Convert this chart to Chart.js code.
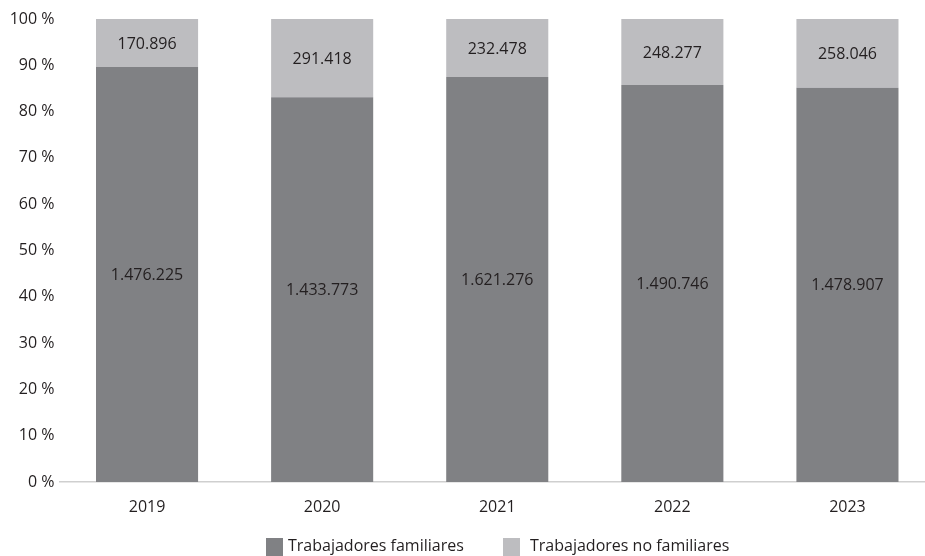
<!DOCTYPE html>
<html lang="es">
<head>
<meta charset="utf-8">
<script src="https://cdn.jsdelivr.net/npm/chart.js@4.4.1/dist/chart.umd.min.js"></script>
<style>
  html, body { margin: 0; padding: 0; overflow: hidden; background: #fff; }
  #wrap { width: 935px; height: 556px; }
</style>
</head>
<body>
<div id="wrap"><canvas id="grafico"></canvas></div>
<script>
// Datos
const years = ['2019', '2020', '2021', '2022', '2023'];
const familiares = [1476225, 1433773, 1621276, 1490746, 1478907];
const noFamiliares = [170896, 291418, 232478, 248277, 258046];
const seriesNames = ['Trabajadores familiares', 'Trabajadores no familiares'];

// porcentaje de cada grupo sobre el total del año
const totals = familiares.map((v, i) => v + noFamiliares[i]);
const pctFamiliares = familiares.map((v, i) => v / totals[i] * 100);
const pctNoFamiliares = noFamiliares.map((v, i) => v / totals[i] * 100);

const textColor = '#231f20';
const fontFamily = "'Open Sans', sans-serif";

function miles(n) {
  return String(n).replace(/\B(?=(\d{3})+(?!\d))/g, '.');
}

// etiquetas dentro de las barras
const barLabels = {
  id: 'barLabels',
  afterDatasetsDraw(chart) {
    const ctx = chart.ctx;
    const raw = [familiares, noFamiliares];
    ctx.save();
    ctx.font = '16px ' + fontFamily;
    ctx.fillStyle = textColor;
    ctx.textAlign = 'center';
    ctx.textBaseline = 'middle';
    chart.data.datasets.forEach((ds, d) => {
      chart.getDatasetMeta(d).data.forEach((bar, i) => {
        ctx.fillText(miles(raw[d][i]), bar.x, (bar.y + bar.base) / 2 + 1);
      });
    });
    ctx.restore();
  }
};

// leyenda inferior
const leyenda = {
  id: 'leyenda',
  afterDraw(chart) {
    const ctx = chart.ctx;
    const boxX = [266, 503];
    const textX = [288, 530];
    ctx.save();
    ctx.font = '16px ' + fontFamily;
    ctx.textBaseline = 'middle';
    chart.data.datasets.forEach((ds, d) => {
      ctx.fillStyle = ds.backgroundColor;
      ctx.fillRect(boxX[d], 538, 17, 18);
      ctx.fillStyle = textColor;
      ctx.fillText(ds.label, textX[d], 546);
    });
    ctx.restore();
  }
};

new Chart(document.getElementById('grafico'), {
  type: 'bar',
  data: {
    labels: years,
    datasets: [
      { label: seriesNames[0], data: pctFamiliares, backgroundColor: '#808184' },
      { label: seriesNames[1], data: pctNoFamiliares, backgroundColor: '#bdbdc0' }
    ]
  },
  options: {
    responsive: true,
    maintainAspectRatio: false,
    animation: false,
    events: [],
    layout: { padding: { top: 19, right: 0, bottom: 0, left: 0 } },
    datasets: {
      bar: { categoryPercentage: 1, barPercentage: 0.583 }
    },
    plugins: {
      legend: { display: false },
      tooltip: { enabled: false }
    },
    scales: {
      x: {
        stacked: true,
        grid: { display: false, drawTicks: false },
        border: { display: true, color: '#cfcfcf', width: 1.5 },
        ticks: { color: textColor, font: { family: fontFamily, size: 16 }, padding: 16 },
        afterFit(scale) { scale.height = 74; }
      },
      y: {
        stacked: true,
        min: 0,
        max: 100,
        grid: { display: false, drawTicks: false },
        border: { display: false },
        ticks: {
          stepSize: 10,
          color: textColor,
          font: { family: fontFamily, size: 16 },
          padding: 5,
          callback: v => v + ' %'
        },
        afterFit(scale) { scale.width = 59.5; }
      }
    }
  },
  plugins: [barLabels, leyenda]
});
</script>
</body>
</html>
